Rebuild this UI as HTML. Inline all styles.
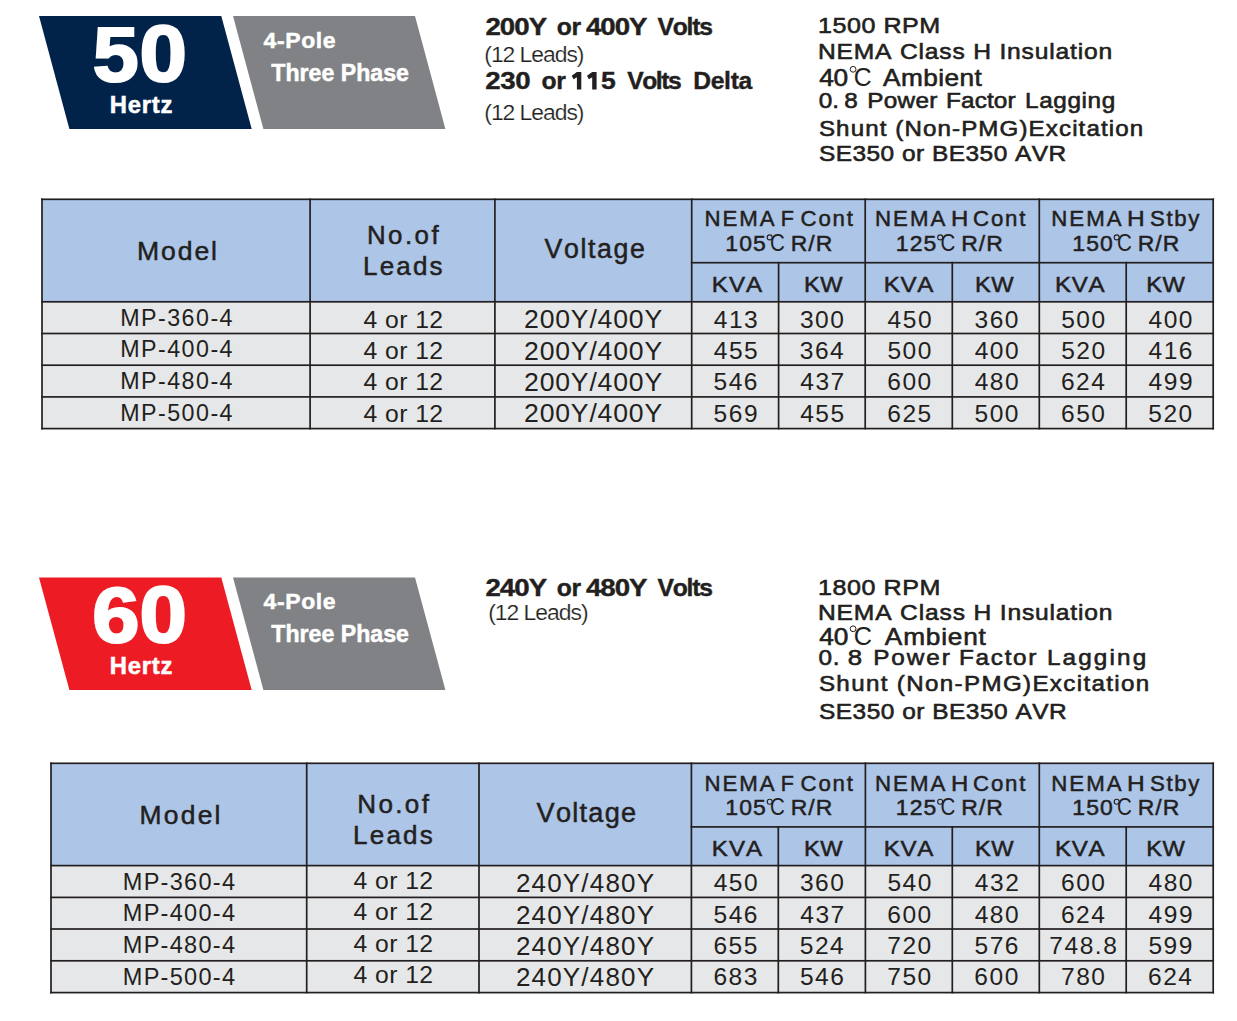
<!DOCTYPE html><html><head><meta charset="utf-8"><title>MP Generator Ratings</title><style>html,body{margin:0;padding:0;background:#fff;width:1237px;height:1021px;overflow:hidden}svg{display:block}text{font-family:"Liberation Sans",sans-serif;font-kerning:none;font-variant-ligatures:none;white-space:pre}</style></head><body>
<svg width="1237" height="1021" viewBox="0 0 1237 1021">
<polygon points="39.00,16.00 221.30,16.00 251.70,129.00 69.40,129.00" fill="#01234a"/>
<polygon points="233.00,16.00 415.00,16.00 445.40,129.00 263.40,129.00" fill="#808285"/>
<polygon points="39.00,577.40 221.30,577.40 251.70,689.90 69.40,689.90" fill="#ed1c24"/>
<polygon points="233.00,577.40 415.00,577.40 445.40,689.90 263.40,689.90" fill="#808285"/>
<rect x="42.00" y="199.30" width="1171.20" height="102.50" fill="#adc5e7"/>
<rect x="42.00" y="301.80" width="1171.20" height="126.80" fill="#e6e7e8"/>
<rect x="51.00" y="763.30" width="1162.20" height="102.30" fill="#adc5e7"/>
<rect x="51.00" y="865.60" width="1162.20" height="127.00" fill="#e6e7e8"/>
<rect x="41.15" y="198.45" width="1172.90" height="1.70" fill="#231f20"/>
<rect x="690.85" y="261.85" width="523.20" height="1.70" fill="#231f20"/>
<rect x="41.15" y="300.95" width="1172.90" height="1.70" fill="#231f20"/>
<rect x="41.15" y="332.65" width="1172.90" height="1.70" fill="#231f20"/>
<rect x="41.15" y="364.35" width="1172.90" height="1.70" fill="#231f20"/>
<rect x="41.15" y="396.05" width="1172.90" height="1.70" fill="#231f20"/>
<rect x="41.15" y="427.75" width="1172.90" height="1.70" fill="#231f20"/>
<rect x="41.15" y="198.45" width="1.70" height="231.00" fill="#231f20"/>
<rect x="309.25" y="198.45" width="1.70" height="231.00" fill="#231f20"/>
<rect x="494.05" y="198.45" width="1.70" height="231.00" fill="#231f20"/>
<rect x="690.85" y="198.45" width="1.70" height="231.00" fill="#231f20"/>
<rect x="777.75" y="261.85" width="1.70" height="167.60" fill="#231f20"/>
<rect x="864.35" y="198.45" width="1.70" height="231.00" fill="#231f20"/>
<rect x="951.45" y="261.85" width="1.70" height="167.60" fill="#231f20"/>
<rect x="1038.45" y="198.45" width="1.70" height="231.00" fill="#231f20"/>
<rect x="1125.35" y="261.85" width="1.70" height="167.60" fill="#231f20"/>
<rect x="1212.35" y="198.45" width="1.70" height="231.00" fill="#231f20"/>
<rect x="50.15" y="762.45" width="1163.90" height="1.70" fill="#231f20"/>
<rect x="690.55" y="826.05" width="523.50" height="1.70" fill="#231f20"/>
<rect x="50.15" y="864.75" width="1163.90" height="1.70" fill="#231f20"/>
<rect x="50.15" y="896.55" width="1163.90" height="1.70" fill="#231f20"/>
<rect x="50.15" y="928.15" width="1163.90" height="1.70" fill="#231f20"/>
<rect x="50.15" y="959.95" width="1163.90" height="1.70" fill="#231f20"/>
<rect x="50.15" y="991.75" width="1163.90" height="1.70" fill="#231f20"/>
<rect x="50.15" y="762.45" width="1.70" height="231.00" fill="#231f20"/>
<rect x="305.85" y="762.45" width="1.70" height="231.00" fill="#231f20"/>
<rect x="478.15" y="762.45" width="1.70" height="231.00" fill="#231f20"/>
<rect x="690.55" y="762.45" width="1.70" height="231.00" fill="#231f20"/>
<rect x="777.45" y="826.05" width="1.70" height="167.40" fill="#231f20"/>
<rect x="864.55" y="762.45" width="1.70" height="231.00" fill="#231f20"/>
<rect x="951.45" y="826.05" width="1.70" height="167.40" fill="#231f20"/>
<rect x="1038.45" y="762.45" width="1.70" height="231.00" fill="#231f20"/>
<rect x="1125.35" y="826.05" width="1.70" height="167.40" fill="#231f20"/>
<rect x="1212.35" y="762.45" width="1.70" height="231.00" fill="#231f20"/>
<polygon points="576.90,71.9 581.30,71.9 581.30,89.4 576.90,89.4 576.90,77.2 573.60,79.2 571.70,75.7" fill="#231f20"/>
<polygon points="592.20,71.9 596.60,71.9 596.60,89.4 592.20,89.4 592.20,77.2 588.90,79.2 587.00,75.7" fill="#231f20"/>
<circle cx="853.10" cy="69.30" r="2.9" fill="none" stroke="#231f20" stroke-width="1.0"/>
<circle cx="853.10" cy="628.80" r="2.9" fill="none" stroke="#231f20" stroke-width="1.0"/>
<circle cx="769.70" cy="237.40" r="2.5" fill="none" stroke="#231f20" stroke-width="1.1"/>
<circle cx="940.20" cy="237.40" r="2.5" fill="none" stroke="#231f20" stroke-width="1.1"/>
<circle cx="1116.70" cy="237.40" r="2.5" fill="none" stroke="#231f20" stroke-width="1.1"/>
<circle cx="769.70" cy="801.70" r="2.5" fill="none" stroke="#231f20" stroke-width="1.1"/>
<circle cx="940.20" cy="801.70" r="2.5" fill="none" stroke="#231f20" stroke-width="1.1"/>
<circle cx="1116.70" cy="801.70" r="2.5" fill="none" stroke="#231f20" stroke-width="1.1"/>
<text transform="translate(92.86 81.20) scale(1.064 1)" font-size="77.62" font-weight="bold" fill="#fff" style="letter-spacing:0.000px" stroke="#fff" stroke-width="2.20">5</text>
<text transform="translate(139.62 81.40) scale(1.084 1)" font-size="78.78" font-weight="bold" fill="#fff" style="letter-spacing:0.000px" stroke="#fff" stroke-width="2.20">0</text>
<text x="109.86" y="112.95" font-size="23.84" font-weight="bold" fill="#fff" style="letter-spacing:0.738px" stroke="#fff" stroke-width="0.50">Hertz</text>
<text x="263.60" y="47.75" font-size="22.97" font-weight="bold" fill="#fff" style="letter-spacing:0.603px" stroke="#fff" stroke-width="0.50">4-Pole</text>
<text x="271.29" y="80.85" font-size="23.11" font-weight="bold" fill="#fff" style="letter-spacing:0.021px" stroke="#fff" stroke-width="0.50">Three Phase</text>
<text transform="translate(92.29 641.90) scale(1.095 1)" font-size="77.62" font-weight="bold" fill="#fff" style="letter-spacing:0.000px" stroke="#fff" stroke-width="2.20">6</text>
<text transform="translate(139.62 642.10) scale(1.084 1)" font-size="78.78" font-weight="bold" fill="#fff" style="letter-spacing:0.000px" stroke="#fff" stroke-width="2.20">0</text>
<text x="109.86" y="674.35" font-size="23.84" font-weight="bold" fill="#fff" style="letter-spacing:0.738px" stroke="#fff" stroke-width="0.50">Hertz</text>
<text x="263.60" y="609.15" font-size="22.97" font-weight="bold" fill="#fff" style="letter-spacing:0.603px" stroke="#fff" stroke-width="0.50">4-Pole</text>
<text x="271.29" y="642.25" font-size="23.11" font-weight="bold" fill="#fff" style="letter-spacing:0.021px" stroke="#fff" stroke-width="0.50">Three Phase</text>
<text transform="translate(485.44 34.60) scale(1.120 1)" font-size="24.71" font-weight="bold" fill="#231f20" style="letter-spacing:-0.871px" stroke="#231f20" stroke-width="0.40">200Y</text>
<text x="556.83" y="34.60" font-size="24.71" font-weight="bold" fill="#231f20" style="letter-spacing:-0.470px" stroke="#231f20" stroke-width="0.40">or</text>
<text transform="translate(586.08 34.60) scale(1.120 1)" font-size="24.71" font-weight="bold" fill="#231f20" style="letter-spacing:-0.972px" stroke="#231f20" stroke-width="0.40">400Y</text>
<text x="657.53" y="34.60" font-size="24.71" font-weight="bold" fill="#231f20" style="letter-spacing:-1.232px" stroke="#231f20" stroke-width="0.40">Volts</text>
<text transform="translate(484.28 62.20) scale(1.050 1)" font-size="21.80" font-weight="normal" fill="#231f20" style="letter-spacing:-0.974px" stroke="#fff" stroke-width="0.20">(12 Leads)</text>
<text transform="translate(485.34 89.00) scale(1.120 1)" font-size="24.71" font-weight="bold" fill="#231f20" style="letter-spacing:-0.348px" stroke="#231f20" stroke-width="0.40">230</text>
<text x="541.43" y="89.00" font-size="24.71" font-weight="bold" fill="#231f20" style="letter-spacing:-0.370px" stroke="#231f20" stroke-width="0.40">or</text>
<text x="627.13" y="89.00" font-size="24.71" font-weight="bold" fill="#231f20" style="letter-spacing:-1.432px" stroke="#231f20" stroke-width="0.40">Volts</text>
<text x="693.15" y="89.00" font-size="24.71" font-weight="bold" fill="#231f20" style="letter-spacing:-0.306px" stroke="#231f20" stroke-width="0.40">Delta</text>
<text transform="translate(600.98 89.00) scale(1.074 1)" font-size="24.71" font-weight="bold" fill="#231f20" style="letter-spacing:0.000px" stroke="#231f20" stroke-width="0.40">5</text>
<text transform="translate(484.28 120.10) scale(1.050 1)" font-size="21.80" font-weight="normal" fill="#231f20" style="letter-spacing:-0.974px" stroke="#fff" stroke-width="0.20">(12 Leads)</text>
<text transform="translate(485.44 596.00) scale(1.120 1)" font-size="24.71" font-weight="bold" fill="#231f20" style="letter-spacing:-0.871px" stroke="#231f20" stroke-width="0.40">240Y</text>
<text x="556.83" y="596.00" font-size="24.71" font-weight="bold" fill="#231f20" style="letter-spacing:-0.470px" stroke="#231f20" stroke-width="0.40">or</text>
<text transform="translate(586.08 596.00) scale(1.120 1)" font-size="24.71" font-weight="bold" fill="#231f20" style="letter-spacing:-0.972px" stroke="#231f20" stroke-width="0.40">480Y</text>
<text x="657.53" y="596.00" font-size="24.71" font-weight="bold" fill="#231f20" style="letter-spacing:-1.232px" stroke="#231f20" stroke-width="0.40">Volts</text>
<text transform="translate(488.18 620.00) scale(1.050 1)" font-size="21.80" font-weight="normal" fill="#231f20" style="letter-spacing:-0.953px" stroke="#fff" stroke-width="0.20">(12 Leads)</text>
<text transform="translate(818.09 33.10) scale(1.100 1)" font-size="22.82" font-weight="normal" fill="#231f20" style="letter-spacing:0.477px" stroke="#231f20" stroke-width="0.60">1500 RPM</text>
<text transform="translate(817.98 59.20) scale(1.100 1)" font-size="22.38" font-weight="normal" fill="#231f20" style="letter-spacing:0.740px" stroke="#231f20" stroke-width="0.60">NEMA Class H Insulation</text>
<text transform="translate(818.90 135.60) scale(1.100 1)" font-size="21.95" font-weight="normal" fill="#231f20" style="letter-spacing:1.004px" stroke="#231f20" stroke-width="0.60">Shunt (Non-PMG)Excitation</text>
<text transform="translate(818.89 161.10) scale(1.100 1)" font-size="22.24" font-weight="normal" fill="#231f20" style="letter-spacing:0.439px" stroke="#231f20" stroke-width="0.60">SE350 or BE350 AVR</text>
<text transform="translate(819.20 85.70) scale(1.100 1)" font-size="23.84" font-weight="normal" fill="#231f20" style="letter-spacing:-0.309px" stroke="#231f20" stroke-width="0.60">40</text>
<text transform="translate(853.74 86.30) scale(0.969 1)" font-size="25.58" font-weight="normal" fill="#231f20" style="letter-spacing:0.000px">C</text>
<text transform="translate(882.95 85.70) scale(1.100 1)" font-size="23.84" font-weight="normal" fill="#231f20" style="letter-spacing:0.417px" stroke="#231f20" stroke-width="0.60">Ambient</text>
<text transform="translate(818.85 108.10) scale(1.100 1)" font-size="22.09" font-weight="normal" fill="#231f20" style="letter-spacing:-0.181px" stroke="#231f20" stroke-width="0.60">0.</text>
<text transform="translate(844.24 108.10) scale(1.100 1)" font-size="22.09" font-weight="normal" fill="#231f20" style="letter-spacing:0.000px" stroke="#231f20" stroke-width="0.60">8</text>
<text transform="translate(867.21 108.10) scale(1.100 1)" font-size="22.09" font-weight="normal" fill="#231f20" style="letter-spacing:0.298px" stroke="#231f20" stroke-width="0.60">Power</text>
<text transform="translate(946.11 108.10) scale(1.100 1)" font-size="22.09" font-weight="normal" fill="#231f20" style="letter-spacing:0.114px" stroke="#231f20" stroke-width="0.60">Factor</text>
<text transform="translate(1025.11 108.10) scale(1.100 1)" font-size="22.09" font-weight="normal" fill="#231f20" style="letter-spacing:0.555px" stroke="#231f20" stroke-width="0.60">Lagging</text>
<text transform="translate(818.09 594.60) scale(1.100 1)" font-size="22.82" font-weight="normal" fill="#231f20" style="letter-spacing:0.490px" stroke="#231f20" stroke-width="0.60">1800 RPM</text>
<text transform="translate(817.98 619.80) scale(1.100 1)" font-size="22.38" font-weight="normal" fill="#231f20" style="letter-spacing:0.757px" stroke="#231f20" stroke-width="0.60">NEMA Class H Insulation</text>
<text transform="translate(818.90 691.20) scale(1.100 1)" font-size="21.95" font-weight="normal" fill="#231f20" style="letter-spacing:1.235px" stroke="#231f20" stroke-width="0.60">Shunt (Non-PMG)Excitation</text>
<text transform="translate(818.89 718.90) scale(1.100 1)" font-size="22.24" font-weight="normal" fill="#231f20" style="letter-spacing:0.466px" stroke="#231f20" stroke-width="0.60">SE350 or BE350 AVR</text>
<text transform="translate(819.20 644.70) scale(1.100 1)" font-size="23.84" font-weight="normal" fill="#231f20" style="letter-spacing:0.055px" stroke="#231f20" stroke-width="0.60">40</text>
<text transform="translate(853.72 645.30) scale(0.988 1)" font-size="25.58" font-weight="normal" fill="#231f20" style="letter-spacing:0.000px">C</text>
<text transform="translate(884.85 644.70) scale(1.100 1)" font-size="23.84" font-weight="normal" fill="#231f20" style="letter-spacing:0.735px" stroke="#231f20" stroke-width="0.60">Ambient</text>
<text transform="translate(818.45 665.20) scale(1.100 1)" font-size="22.09" font-weight="normal" fill="#231f20" style="letter-spacing:0.637px" stroke="#231f20" stroke-width="0.60">0.</text>
<text transform="translate(847.68 665.20) scale(1.167 1)" font-size="22.09" font-weight="normal" fill="#231f20" style="letter-spacing:0.000px" stroke="#231f20" stroke-width="0.60">8</text>
<text transform="translate(873.21 665.20) scale(1.100 1)" font-size="22.09" font-weight="normal" fill="#231f20" style="letter-spacing:1.753px" stroke="#231f20" stroke-width="0.60">Power</text>
<text transform="translate(959.01 665.20) scale(1.100 1)" font-size="22.09" font-weight="normal" fill="#231f20" style="letter-spacing:1.550px" stroke="#231f20" stroke-width="0.60">Factor</text>
<text transform="translate(1046.91 665.20) scale(1.100 1)" font-size="22.09" font-weight="normal" fill="#231f20" style="letter-spacing:1.934px" stroke="#231f20" stroke-width="0.60">Lagging</text>
<text x="136.97" y="259.55" font-size="26.60" font-weight="normal" fill="#231f20" style="letter-spacing:1.904px" stroke="#231f20" stroke-width="0.50">Model</text>
<text x="366.93" y="243.75" font-size="25.87" font-weight="normal" fill="#231f20" style="letter-spacing:2.487px" stroke="#231f20" stroke-width="0.50">No.of</text>
<text x="363.02" y="275.25" font-size="26.02" font-weight="normal" fill="#231f20" style="letter-spacing:2.172px" stroke="#231f20" stroke-width="0.50">Leads</text>
<text x="544.43" y="257.65" font-size="26.74" font-weight="normal" fill="#231f20" style="letter-spacing:1.633px" stroke="#231f20" stroke-width="0.50">Voltage</text>
<text x="704.43" y="226.45" font-size="22.24" font-weight="normal" fill="#231f20" style="letter-spacing:1.939px" stroke="#231f20" stroke-width="0.50">NEMA</text>
<text transform="translate(780.79 226.45) scale(0.966 1)" font-size="22.24" font-weight="normal" fill="#231f20" style="letter-spacing:0.000px" stroke="#231f20" stroke-width="0.50">F</text>
<text x="800.62" y="226.45" font-size="22.24" font-weight="normal" fill="#231f20" style="letter-spacing:1.773px" stroke="#231f20" stroke-width="0.50">Cont</text>
<text x="875.03" y="226.45" font-size="22.24" font-weight="normal" fill="#231f20" style="letter-spacing:2.039px" stroke="#231f20" stroke-width="0.50">NEMA</text>
<text transform="translate(950.98 226.45) scale(1.079 1)" font-size="22.24" font-weight="normal" fill="#231f20" style="letter-spacing:0.000px" stroke="#231f20" stroke-width="0.50">H</text>
<text x="973.02" y="226.45" font-size="22.24" font-weight="normal" fill="#231f20" style="letter-spacing:1.839px" stroke="#231f20" stroke-width="0.50">Cont</text>
<text x="1051.13" y="226.45" font-size="22.24" font-weight="normal" fill="#231f20" style="letter-spacing:2.072px" stroke="#231f20" stroke-width="0.50">NEMA</text>
<text transform="translate(1127.04 226.45) scale(1.103 1)" font-size="22.24" font-weight="normal" fill="#231f20" style="letter-spacing:0.000px" stroke="#231f20" stroke-width="0.50">H</text>
<text x="1150.04" y="226.45" font-size="22.24" font-weight="normal" fill="#231f20" style="letter-spacing:1.618px" stroke="#231f20" stroke-width="0.50">Stby</text>
<text x="725.30" y="250.55" font-size="22.97" font-weight="normal" fill="#231f20" style="letter-spacing:1.099px" stroke="#231f20" stroke-width="0.50">105</text>
<text transform="translate(769.96 251.00) scale(0.861 1)" font-size="23.84" font-weight="normal" fill="#231f20" style="letter-spacing:0.000px">C</text>
<text x="790.67" y="250.55" font-size="22.97" font-weight="normal" fill="#231f20" style="letter-spacing:1.050px" stroke="#231f20" stroke-width="0.50">R/R</text>
<text x="895.80" y="250.55" font-size="22.97" font-weight="normal" fill="#231f20" style="letter-spacing:1.099px" stroke="#231f20" stroke-width="0.50">125</text>
<text transform="translate(940.46 251.00) scale(0.861 1)" font-size="23.84" font-weight="normal" fill="#231f20" style="letter-spacing:0.000px">C</text>
<text x="961.17" y="250.55" font-size="22.97" font-weight="normal" fill="#231f20" style="letter-spacing:1.050px" stroke="#231f20" stroke-width="0.50">R/R</text>
<text x="1072.30" y="250.55" font-size="22.97" font-weight="normal" fill="#231f20" style="letter-spacing:1.065px" stroke="#231f20" stroke-width="0.50">150</text>
<text transform="translate(1116.96 251.00) scale(0.861 1)" font-size="23.84" font-weight="normal" fill="#231f20" style="letter-spacing:0.000px">C</text>
<text x="1137.67" y="250.55" font-size="22.97" font-weight="normal" fill="#231f20" style="letter-spacing:1.050px" stroke="#231f20" stroke-width="0.50">R/R</text>
<text transform="translate(711.87 291.65) scale(1.100 1)" font-size="21.95" font-weight="normal" fill="#231f20" style="letter-spacing:0.872px" stroke="#231f20" stroke-width="0.50">KVA</text>
<text transform="translate(883.77 291.65) scale(1.100 1)" font-size="21.95" font-weight="normal" fill="#231f20" style="letter-spacing:0.600px" stroke="#231f20" stroke-width="0.50">KVA</text>
<text transform="translate(1054.97 291.65) scale(1.100 1)" font-size="21.95" font-weight="normal" fill="#231f20" style="letter-spacing:0.600px" stroke="#231f20" stroke-width="0.50">KVA</text>
<text transform="translate(803.91 291.65) scale(1.080 1)" font-size="21.95" font-weight="normal" fill="#231f20" style="letter-spacing:0.410px" stroke="#231f20" stroke-width="0.50">KW</text>
<text transform="translate(975.11 291.65) scale(1.080 1)" font-size="21.95" font-weight="normal" fill="#231f20" style="letter-spacing:0.318px" stroke="#231f20" stroke-width="0.50">KW</text>
<text transform="translate(1146.21 291.65) scale(1.080 1)" font-size="21.95" font-weight="normal" fill="#231f20" style="letter-spacing:0.410px" stroke="#231f20" stroke-width="0.50">KW</text>
<text x="120.19" y="325.50" font-size="23.26" font-weight="normal" fill="#231f20" style="letter-spacing:1.469px">MP-360-4</text>
<text x="120.19" y="357.00" font-size="23.26" font-weight="normal" fill="#231f20" style="letter-spacing:1.469px">MP-400-4</text>
<text x="120.19" y="388.90" font-size="23.26" font-weight="normal" fill="#231f20" style="letter-spacing:1.469px">MP-480-4</text>
<text x="120.19" y="420.60" font-size="23.26" font-weight="normal" fill="#231f20" style="letter-spacing:1.469px">MP-500-4</text>
<text x="363.43" y="327.80" font-size="24.71" font-weight="normal" fill="#231f20" style="letter-spacing:0.464px">4 or 12</text>
<text x="363.43" y="359.20" font-size="24.71" font-weight="normal" fill="#231f20" style="letter-spacing:0.464px">4 or 12</text>
<text x="363.43" y="390.10" font-size="24.71" font-weight="normal" fill="#231f20" style="letter-spacing:0.464px">4 or 12</text>
<text x="363.43" y="421.60" font-size="24.71" font-weight="normal" fill="#231f20" style="letter-spacing:0.464px">4 or 12</text>
<text x="524.06" y="328.20" font-size="26.60" font-weight="normal" fill="#231f20" style="letter-spacing:0.811px">200Y/400Y</text>
<text x="524.06" y="359.80" font-size="26.60" font-weight="normal" fill="#231f20" style="letter-spacing:0.811px">200Y/400Y</text>
<text x="524.06" y="391.00" font-size="26.60" font-weight="normal" fill="#231f20" style="letter-spacing:0.811px">200Y/400Y</text>
<text x="524.06" y="422.00" font-size="26.60" font-weight="normal" fill="#231f20" style="letter-spacing:0.811px">200Y/400Y</text>
<text x="713.77" y="327.90" font-size="24.56" font-weight="normal" fill="#231f20" style="letter-spacing:1.500px">413</text>
<text x="799.92" y="327.90" font-size="24.56" font-weight="normal" fill="#231f20" style="letter-spacing:1.500px">300</text>
<text x="887.61" y="327.90" font-size="24.56" font-weight="normal" fill="#231f20" style="letter-spacing:1.500px">450</text>
<text x="974.52" y="327.90" font-size="24.56" font-weight="normal" fill="#231f20" style="letter-spacing:1.500px">360</text>
<text x="1061.20" y="327.90" font-size="24.56" font-weight="normal" fill="#231f20" style="letter-spacing:1.500px">500</text>
<text x="1148.51" y="327.90" font-size="24.56" font-weight="normal" fill="#231f20" style="letter-spacing:1.500px">400</text>
<text x="713.74" y="359.10" font-size="24.56" font-weight="normal" fill="#231f20" style="letter-spacing:1.500px">455</text>
<text x="799.80" y="359.10" font-size="24.56" font-weight="normal" fill="#231f20" style="letter-spacing:1.500px">364</text>
<text x="887.40" y="359.10" font-size="24.56" font-weight="normal" fill="#231f20" style="letter-spacing:1.500px">500</text>
<text x="974.71" y="359.10" font-size="24.56" font-weight="normal" fill="#231f20" style="letter-spacing:1.500px">400</text>
<text x="1061.20" y="359.10" font-size="24.56" font-weight="normal" fill="#231f20" style="letter-spacing:1.500px">520</text>
<text x="1148.57" y="359.10" font-size="24.56" font-weight="normal" fill="#231f20" style="letter-spacing:1.500px">416</text>
<text x="713.56" y="390.30" font-size="24.56" font-weight="normal" fill="#231f20" style="letter-spacing:1.500px">546</text>
<text x="800.24" y="390.30" font-size="24.56" font-weight="normal" fill="#231f20" style="letter-spacing:1.500px">437</text>
<text x="887.26" y="390.30" font-size="24.56" font-weight="normal" fill="#231f20" style="letter-spacing:1.500px">600</text>
<text x="974.71" y="390.30" font-size="24.56" font-weight="normal" fill="#231f20" style="letter-spacing:1.500px">480</text>
<text x="1060.94" y="390.30" font-size="24.56" font-weight="normal" fill="#231f20" style="letter-spacing:1.500px">624</text>
<text x="1148.61" y="390.30" font-size="24.56" font-weight="normal" fill="#231f20" style="letter-spacing:1.500px">499</text>
<text x="713.60" y="421.60" font-size="24.56" font-weight="normal" fill="#231f20" style="letter-spacing:1.500px">569</text>
<text x="800.14" y="421.60" font-size="24.56" font-weight="normal" fill="#231f20" style="letter-spacing:1.500px">455</text>
<text x="887.30" y="421.60" font-size="24.56" font-weight="normal" fill="#231f20" style="letter-spacing:1.500px">625</text>
<text x="974.50" y="421.60" font-size="24.56" font-weight="normal" fill="#231f20" style="letter-spacing:1.500px">500</text>
<text x="1061.06" y="421.60" font-size="24.56" font-weight="normal" fill="#231f20" style="letter-spacing:1.500px">650</text>
<text x="1148.30" y="421.60" font-size="24.56" font-weight="normal" fill="#231f20" style="letter-spacing:1.500px">520</text>
<text x="139.48" y="823.75" font-size="26.45" font-weight="normal" fill="#231f20" style="letter-spacing:2.248px" stroke="#231f20" stroke-width="0.50">Model</text>
<text x="357.22" y="813.25" font-size="26.02" font-weight="normal" fill="#231f20" style="letter-spacing:2.378px" stroke="#231f20" stroke-width="0.50">No.of</text>
<text x="353.12" y="844.35" font-size="26.02" font-weight="normal" fill="#231f20" style="letter-spacing:2.172px" stroke="#231f20" stroke-width="0.50">Leads</text>
<text x="536.53" y="821.55" font-size="27.18" font-weight="normal" fill="#231f20" style="letter-spacing:1.257px" stroke="#231f20" stroke-width="0.50">Voltage</text>
<text x="704.43" y="790.75" font-size="22.24" font-weight="normal" fill="#231f20" style="letter-spacing:1.939px" stroke="#231f20" stroke-width="0.50">NEMA</text>
<text transform="translate(780.79 790.75) scale(0.966 1)" font-size="22.24" font-weight="normal" fill="#231f20" style="letter-spacing:0.000px" stroke="#231f20" stroke-width="0.50">F</text>
<text x="800.62" y="790.75" font-size="22.24" font-weight="normal" fill="#231f20" style="letter-spacing:1.773px" stroke="#231f20" stroke-width="0.50">Cont</text>
<text x="875.03" y="790.75" font-size="22.24" font-weight="normal" fill="#231f20" style="letter-spacing:2.039px" stroke="#231f20" stroke-width="0.50">NEMA</text>
<text transform="translate(950.98 790.75) scale(1.079 1)" font-size="22.24" font-weight="normal" fill="#231f20" style="letter-spacing:0.000px" stroke="#231f20" stroke-width="0.50">H</text>
<text x="973.02" y="790.75" font-size="22.24" font-weight="normal" fill="#231f20" style="letter-spacing:1.839px" stroke="#231f20" stroke-width="0.50">Cont</text>
<text x="1051.13" y="790.75" font-size="22.24" font-weight="normal" fill="#231f20" style="letter-spacing:2.072px" stroke="#231f20" stroke-width="0.50">NEMA</text>
<text transform="translate(1127.04 790.75) scale(1.103 1)" font-size="22.24" font-weight="normal" fill="#231f20" style="letter-spacing:0.000px" stroke="#231f20" stroke-width="0.50">H</text>
<text x="1150.04" y="790.75" font-size="22.24" font-weight="normal" fill="#231f20" style="letter-spacing:1.618px" stroke="#231f20" stroke-width="0.50">Stby</text>
<text x="725.30" y="814.85" font-size="22.97" font-weight="normal" fill="#231f20" style="letter-spacing:1.099px" stroke="#231f20" stroke-width="0.50">105</text>
<text transform="translate(769.96 815.30) scale(0.861 1)" font-size="23.84" font-weight="normal" fill="#231f20" style="letter-spacing:0.000px">C</text>
<text x="790.67" y="814.85" font-size="22.97" font-weight="normal" fill="#231f20" style="letter-spacing:1.050px" stroke="#231f20" stroke-width="0.50">R/R</text>
<text x="895.80" y="814.85" font-size="22.97" font-weight="normal" fill="#231f20" style="letter-spacing:1.099px" stroke="#231f20" stroke-width="0.50">125</text>
<text transform="translate(940.46 815.30) scale(0.861 1)" font-size="23.84" font-weight="normal" fill="#231f20" style="letter-spacing:0.000px">C</text>
<text x="961.17" y="814.85" font-size="22.97" font-weight="normal" fill="#231f20" style="letter-spacing:1.050px" stroke="#231f20" stroke-width="0.50">R/R</text>
<text x="1072.30" y="814.85" font-size="22.97" font-weight="normal" fill="#231f20" style="letter-spacing:1.065px" stroke="#231f20" stroke-width="0.50">150</text>
<text transform="translate(1116.96 815.30) scale(0.861 1)" font-size="23.84" font-weight="normal" fill="#231f20" style="letter-spacing:0.000px">C</text>
<text x="1137.67" y="814.85" font-size="22.97" font-weight="normal" fill="#231f20" style="letter-spacing:1.050px" stroke="#231f20" stroke-width="0.50">R/R</text>
<text transform="translate(711.87 855.95) scale(1.100 1)" font-size="21.95" font-weight="normal" fill="#231f20" style="letter-spacing:0.872px" stroke="#231f20" stroke-width="0.50">KVA</text>
<text transform="translate(883.77 855.95) scale(1.100 1)" font-size="21.95" font-weight="normal" fill="#231f20" style="letter-spacing:0.600px" stroke="#231f20" stroke-width="0.50">KVA</text>
<text transform="translate(1054.97 855.95) scale(1.100 1)" font-size="21.95" font-weight="normal" fill="#231f20" style="letter-spacing:0.600px" stroke="#231f20" stroke-width="0.50">KVA</text>
<text transform="translate(803.91 855.95) scale(1.080 1)" font-size="21.95" font-weight="normal" fill="#231f20" style="letter-spacing:0.410px" stroke="#231f20" stroke-width="0.50">KW</text>
<text transform="translate(975.11 855.95) scale(1.080 1)" font-size="21.95" font-weight="normal" fill="#231f20" style="letter-spacing:0.318px" stroke="#231f20" stroke-width="0.50">KW</text>
<text transform="translate(1146.21 855.95) scale(1.080 1)" font-size="21.95" font-weight="normal" fill="#231f20" style="letter-spacing:0.410px" stroke="#231f20" stroke-width="0.50">KW</text>
<text x="122.77" y="889.60" font-size="23.55" font-weight="normal" fill="#231f20" style="letter-spacing:1.262px">MP-360-4</text>
<text x="122.77" y="920.90" font-size="23.55" font-weight="normal" fill="#231f20" style="letter-spacing:1.262px">MP-400-4</text>
<text x="122.77" y="953.10" font-size="23.55" font-weight="normal" fill="#231f20" style="letter-spacing:1.262px">MP-480-4</text>
<text x="122.77" y="984.60" font-size="23.55" font-weight="normal" fill="#231f20" style="letter-spacing:1.262px">MP-500-4</text>
<text x="353.43" y="888.90" font-size="24.71" font-weight="normal" fill="#231f20" style="letter-spacing:0.464px">4 or 12</text>
<text x="353.43" y="920.10" font-size="24.71" font-weight="normal" fill="#231f20" style="letter-spacing:0.464px">4 or 12</text>
<text x="353.43" y="951.60" font-size="24.71" font-weight="normal" fill="#231f20" style="letter-spacing:0.464px">4 or 12</text>
<text x="353.43" y="982.80" font-size="24.71" font-weight="normal" fill="#231f20" style="letter-spacing:0.464px">4 or 12</text>
<text x="515.89" y="891.90" font-size="26.02" font-weight="normal" fill="#231f20" style="letter-spacing:1.178px">240Y/480Y</text>
<text x="515.89" y="923.50" font-size="26.02" font-weight="normal" fill="#231f20" style="letter-spacing:1.178px">240Y/480Y</text>
<text x="515.89" y="954.50" font-size="26.02" font-weight="normal" fill="#231f20" style="letter-spacing:1.178px">240Y/480Y</text>
<text x="515.89" y="985.80" font-size="26.02" font-weight="normal" fill="#231f20" style="letter-spacing:1.178px">240Y/480Y</text>
<text x="713.71" y="891.40" font-size="24.56" font-weight="normal" fill="#231f20" style="letter-spacing:1.500px">450</text>
<text x="799.92" y="891.40" font-size="24.56" font-weight="normal" fill="#231f20" style="letter-spacing:1.500px">360</text>
<text x="887.40" y="891.40" font-size="24.56" font-weight="normal" fill="#231f20" style="letter-spacing:1.500px">540</text>
<text x="974.84" y="891.40" font-size="24.56" font-weight="normal" fill="#231f20" style="letter-spacing:1.500px">432</text>
<text x="1061.06" y="891.40" font-size="24.56" font-weight="normal" fill="#231f20" style="letter-spacing:1.500px">600</text>
<text x="1148.51" y="891.40" font-size="24.56" font-weight="normal" fill="#231f20" style="letter-spacing:1.500px">480</text>
<text x="713.56" y="922.70" font-size="24.56" font-weight="normal" fill="#231f20" style="letter-spacing:1.500px">546</text>
<text x="800.24" y="922.70" font-size="24.56" font-weight="normal" fill="#231f20" style="letter-spacing:1.500px">437</text>
<text x="887.26" y="922.70" font-size="24.56" font-weight="normal" fill="#231f20" style="letter-spacing:1.500px">600</text>
<text x="974.71" y="922.70" font-size="24.56" font-weight="normal" fill="#231f20" style="letter-spacing:1.500px">480</text>
<text x="1060.94" y="922.70" font-size="24.56" font-weight="normal" fill="#231f20" style="letter-spacing:1.500px">624</text>
<text x="1148.61" y="922.70" font-size="24.56" font-weight="normal" fill="#231f20" style="letter-spacing:1.500px">499</text>
<text x="713.40" y="954.00" font-size="24.56" font-weight="normal" fill="#231f20" style="letter-spacing:1.500px">655</text>
<text x="799.78" y="954.00" font-size="24.56" font-weight="normal" fill="#231f20" style="letter-spacing:1.500px">524</text>
<text x="887.26" y="954.00" font-size="24.56" font-weight="normal" fill="#231f20" style="letter-spacing:1.500px">720</text>
<text x="974.56" y="954.00" font-size="24.56" font-weight="normal" fill="#231f20" style="letter-spacing:1.500px">576</text>
<text x="1049.37" y="954.00" font-size="24.56" font-weight="normal" fill="#231f20" style="letter-spacing:1.500px">748.8</text>
<text x="1148.40" y="954.00" font-size="24.56" font-weight="normal" fill="#231f20" style="letter-spacing:1.500px">599</text>
<text x="713.42" y="985.30" font-size="24.56" font-weight="normal" fill="#231f20" style="letter-spacing:1.500px">683</text>
<text x="799.96" y="985.30" font-size="24.56" font-weight="normal" fill="#231f20" style="letter-spacing:1.500px">546</text>
<text x="887.26" y="985.30" font-size="24.56" font-weight="normal" fill="#231f20" style="letter-spacing:1.500px">750</text>
<text x="974.36" y="985.30" font-size="24.56" font-weight="normal" fill="#231f20" style="letter-spacing:1.500px">600</text>
<text x="1061.06" y="985.30" font-size="24.56" font-weight="normal" fill="#231f20" style="letter-spacing:1.500px">780</text>
<text x="1148.04" y="985.30" font-size="24.56" font-weight="normal" fill="#231f20" style="letter-spacing:1.500px">624</text>
</svg></body></html>
